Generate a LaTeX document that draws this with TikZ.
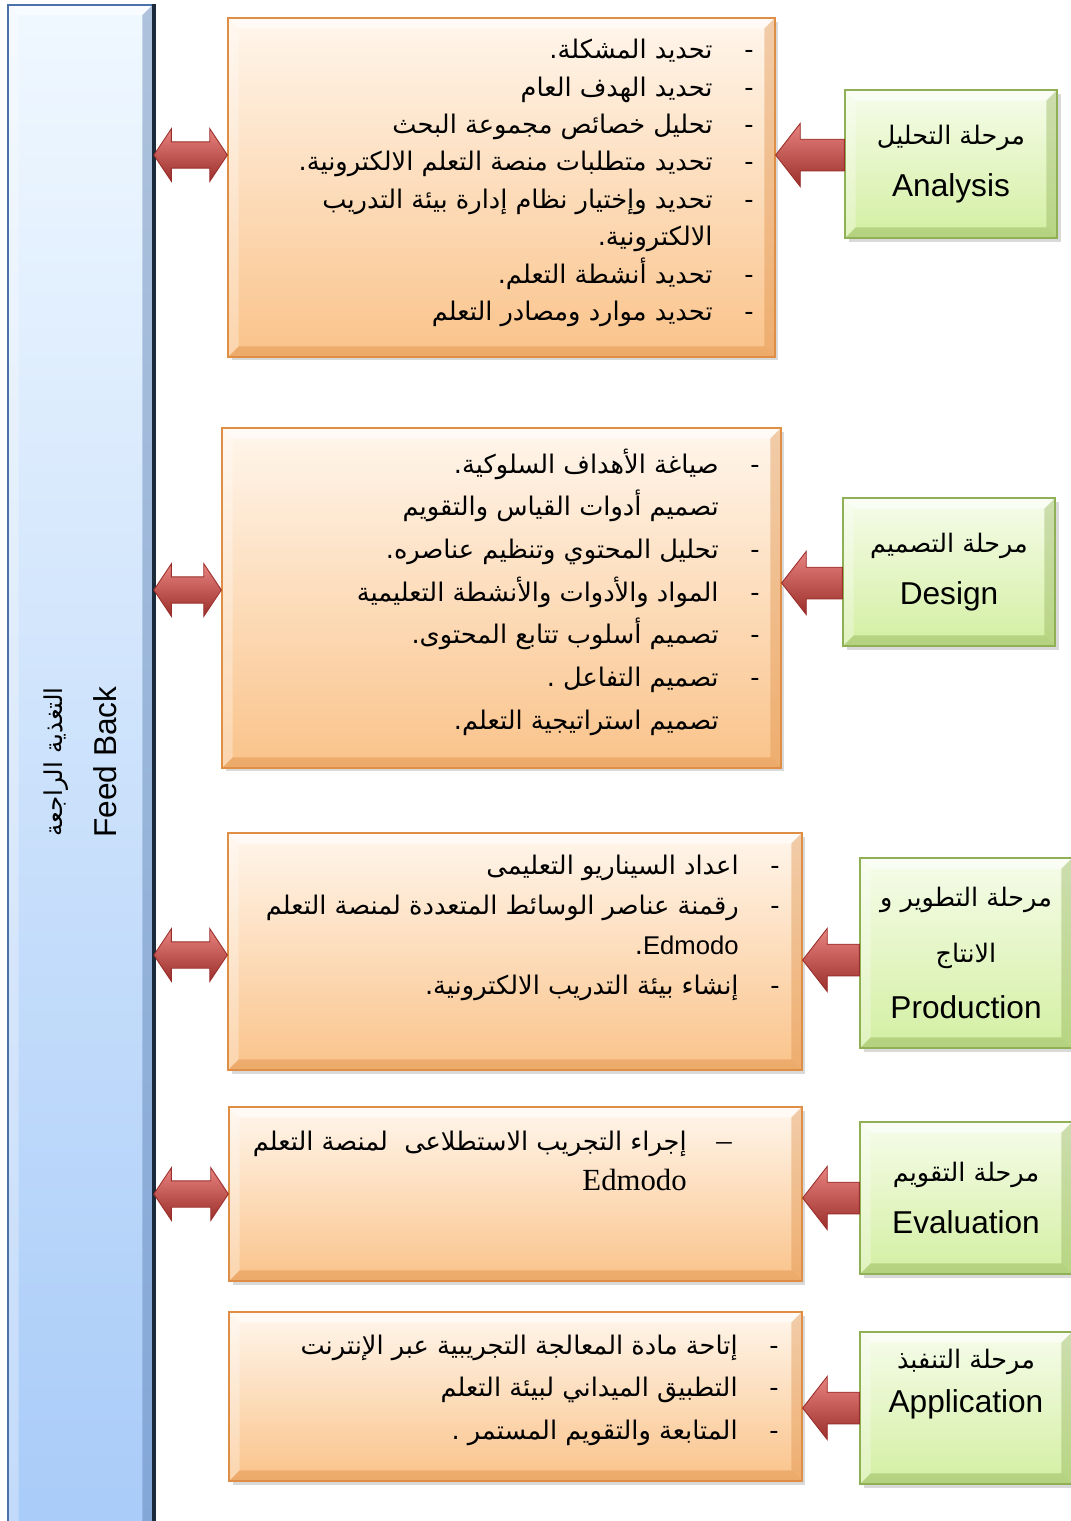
\documentclass[tikz,border=0pt]{standalone}
\usepackage{fontspec}
\setmainfont{Liberation Sans}
\newfontfamily\arabicfont[Script=Arabic]{DejaVu Sans}
\newfontfamily\timesfont{Liberation Serif}
\TeXXeTstate=1
\usetikzlibrary{calc,shadows}

\definecolor{boxtop}{HTML}{FFF6EC}
\definecolor{boxbot}{HTML}{FAC38A}
\definecolor{boxedge}{HTML}{DE8E45}
\definecolor{phasetop}{HTML}{F6FCEA}
\definecolor{phasebot}{HTML}{D3EFA2}
\definecolor{phaseedge}{HTML}{8FB055}
\definecolor{fbtop}{HTML}{F0F8FF}
\definecolor{fbbot}{HTML}{A8CBF8}
\definecolor{fbedge}{HTML}{4B72A8}
\definecolor{fbdark}{HTML}{1C2B3C}
\definecolor{arrowred}{HTML}{D0504C}
\definecolor{arrowdark}{HTML}{9A2E2A}
\definecolor{arrowlight}{HTML}{E98480}

\newcommand{\artext}[1]{\beginR #1\endR}
\newcommand{\itemline}[1]{\artext{#1}\makebox[1.6em][r]{-}}
\newcommand{\contline}[1]{\artext{#1}\makebox[1.6em]{}}

\newcommand{\onearrow}[2]{%
\path[redarrow] let \p1=(#1), \p2=(#2) in
  (\x1,\y1+9pt) -- (\x2+14pt,\y1+9pt) -- (\x2+14pt,\y1+18pt) -- (\x2,\y1)
  -- (\x2+14pt,\y1-18pt) -- (\x2+14pt,\y1-9pt) -- (\x1,\y1-9pt) -- cycle;}
\newcommand{\twoarrow}[2]{%
\path[redarrow] let \p1=(#1), \p2=(#2) in
  (\x1,\y2) -- (\x1+10pt,\y2+15pt) -- (\x1+10pt,\y2+7.5pt) -- (\x2-10pt,\y2+7.5pt)
  -- (\x2-10pt,\y2+15pt) -- (\x2,\y2) -- (\x2-10pt,\y2-15pt) -- (\x2-10pt,\y2-7.5pt)
  -- (\x1+10pt,\y2-7.5pt) -- (\x1+10pt,\y2-15pt) -- cycle;}

\begin{document}
\begin{tikzpicture}[x=0.02cm, y=-0.02cm,
  bevelrim/.style={path picture={
    \coordinate (nw) at (path picture bounding box.north west);
    \coordinate (ne) at (path picture bounding box.north east);
    \coordinate (sw) at (path picture bounding box.south west);
    \coordinate (se) at (path picture bounding box.south east);
    \fill[white,opacity=.55] (nw) -- (ne) -- ([shift={(-6pt,-6pt)}]ne) -- ([shift={(6pt,-6pt)}]nw) -- cycle;
    \fill[white,opacity=.3] (nw) -- (sw) -- ([shift={(6pt,6pt)}]sw) -- ([shift={(6pt,-6pt)}]nw) -- cycle;
    \fill[#1,opacity=.4] (ne) -- (se) -- ([shift={(-6pt,6pt)}]se) -- ([shift={(-6pt,-6pt)}]ne) -- cycle;
    \fill[#1,opacity=.45] (sw) -- (se) -- ([shift={(-6pt,6pt)}]se) -- ([shift={(6pt,6pt)}]sw) -- cycle;}},
  stepbox/.style={draw=boxedge, line width=0.8pt, top color=boxtop, bottom color=boxbot,
    bevelrim=boxedge, drop shadow={opacity=.3, shadow xshift=2pt, shadow yshift=-2pt}},
  phasebox/.style={draw=phaseedge, line width=0.8pt, top color=phasetop, bottom color=phasebot,
    bevelrim=phaseedge, drop shadow={opacity=.3, shadow xshift=2pt, shadow yshift=-2pt},
    align=center, font=\fontsize{18pt}{29.5pt}\selectfont},
  listtext/.style={font=\arabicfont\fontsize{14.6pt}{#1}\selectfont, align=right,
    inner sep=0pt, anchor=east},
  redarrow/.style={draw=arrowdark, line width=0.5pt, top color=arrowlight,
    middle color=arrowred, bottom color=arrowdark}]
\useasboundingbox (0,0) rectangle (1071,1521);

\node[draw=fbedge, line width=1pt, top color=fbtop, bottom color=fbbot, bevelrim=fbedge,
  minimum width=2.9cm, minimum height=30.7cm] (fb) at (80.5,772) {};
\draw[fbdark, line width=2pt] (fb.north east) -- (fb.south east);
\node[rotate=90, align=center, font=\fontsize{18pt}{31pt}\selectfont] (fbtext)
  at ([yshift=0.2cm]fb.center)
  {{\arabicfont\fontsize{14pt}{31pt}\selectfont\artext{التغذية الراجعة}}\\Feed Back};

\node[stepbox, minimum width=10.94cm, minimum height=6.78cm] (o1) at (501.5,187.5) {};
\node[stepbox, minimum width=11.18cm, minimum height=6.80cm] (o2) at (501.5,598) {};
\node[stepbox, minimum width=11.48cm, minimum height=4.74cm] (o3) at (515,951.5) {};
\node[stepbox, minimum width=11.46cm, minimum height=3.48cm] (o4) at (515.5,1194) {};
\node[stepbox, minimum width=11.46cm, minimum height=3.38cm] (o5) at (515.5,1396.5) {};

\node[listtext=21.3pt] (t1) at (754,183) {%
\itemline{تحديد المشكلة.}\\
\itemline{تحديد الهدف العام}\\
\itemline{تحليل خصائص مجموعة البحث}\\
\itemline{تحديد متطلبات منصة التعلم الالكترونية.}\\
\itemline{تحديد وإختيار نظام إدارة بيئة التدريب}\\
\contline{الالكترونية.}\\
\itemline{تحديد أنشطة التعلم.}\\
\itemline{تحديد موارد ومصادر التعلم}};

\node[listtext=24.3pt] (t2) at (760,592) {%
\itemline{صياغة الأهداف السلوكية.}\\
\contline{تصميم أدوات القياس والتقويم}\\
\itemline{تحليل المحتوي وتنظيم عناصره.}\\
\itemline{المواد والأدوات والأنشطة التعليمية}\\
\itemline{تصميم أسلوب تتابع المحتوى.}\\
\itemline{تصميم التفاعل .}\\
\contline{تصميم استراتيجية التعلم.}};

\node[listtext=22.7pt] (t3) at (780,928) {%
\itemline{اعداد السيناريو التعليمى}\\
\itemline{رقمنة عناصر الوسائط المتعددة لمنصة التعلم}\\
\contline{\beginL{\normalfont Edmodo}\endL.}\\
\itemline{إنشاء بيئة التدريب الالكترونية.}};

\node[listtext=23.2pt] (t4) at (732,1161) {%
\artext{إجراء التجريب الاستطلاعى \ لمنصة التعلم}\makebox[0.9cm][r]{{\timesfont\fontsize{17.5pt}{23.2pt}\selectfont –}}\\
{\timesfont\fontsize{17.5pt}{23.2pt}\selectfont Edmodo}\makebox[0.9cm]{}};

\node[listtext=24.2pt] (t5) at (779,1390) {%
\itemline{إتاحة مادة المعالجة التجريبية عبر الإنترنت}\\
\itemline{التطبيق الميداني لبيئة التعلم}\\
\itemline{المتابعة والتقويم المستمر .}};

\node[phasebox, minimum width=4.24cm, minimum height=2.96cm] (g1) at (951,164)
  {{\arabicfont\fontsize{14.5pt}{29.5pt}\selectfont\artext{مرحلة التحليل}}\\Analysis};
\node[phasebox, minimum width=4.24cm, minimum height=2.96cm] (g2) at (949,572)
  {{\arabicfont\fontsize{14.5pt}{29.5pt}\selectfont\artext{مرحلة التصميم}}\\Design};
\node[phasebox, minimum width=4.24cm, minimum height=3.8cm,
  font=\fontsize{18pt}{31.7pt}\selectfont] (g3) at (966,953)
  {{\arabicfont\fontsize{14.5pt}{31.7pt}\selectfont\artext{مرحلة التطوير و}}\\
   {\arabicfont\fontsize{14.5pt}{31.7pt}\selectfont\artext{الانتاج}}\\Production};
\node[phasebox, minimum width=4.24cm, minimum height=3.04cm] (g4) at (966,1198)
  {{\arabicfont\fontsize{14.5pt}{29.5pt}\selectfont\artext{مرحلة التقويم}}\\Evaluation};
\node[phasebox, minimum width=4.24cm, minimum height=3.04cm, text depth=1.1cm,
  font=\fontsize{18pt}{25pt}\selectfont] (g5) at (966,1408)
  {{\arabicfont\fontsize{14.5pt}{25pt}\selectfont\artext{مرحلة التنفبذ}}\\Application};

\onearrow{[yshift=0.18cm]g1.west}{o1.east}
\onearrow{[yshift=-0.22cm]g2.west}{o2.east}
\onearrow{[yshift=-0.14cm]g3.west}{o3.east}
\onearrow{g4.west}{o4.east}
\onearrow{g5.west}{o5.east}

\twoarrow{fb.east}{[yshift=0.65cm]o1.west}
\twoarrow{fb.east}{[yshift=0.16cm]o2.west}
\twoarrow{fb.east}{[yshift=-0.07cm]o3.west}
\twoarrow{fb.east}{o4.west}
\end{tikzpicture}
\end{document}
